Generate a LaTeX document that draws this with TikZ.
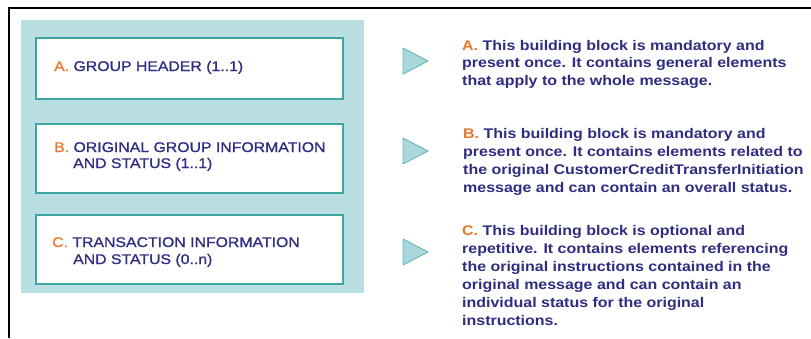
\documentclass[tikz,border=0pt]{standalone}
\usepackage{fontspec}
\setmainfont{Liberation Sans}
\newfontfamily\lefttxt[FakeStretch=1.13,FakeBold=0.9]{Liberation Sans}
\newfontfamily\righttxt[FakeStretch=1.14]{Liberation Sans Bold}
\definecolor{navy}{HTML}{2F2C82}
\definecolor{orng}{HTML}{E8772E}
\definecolor{panel}{HTML}{B9DFE3}
\definecolor{boxline}{HTML}{3EA6A2}
\definecolor{trifill}{HTML}{A9D7DB}
\definecolor{triline}{HTML}{62B9B7}
\tikzset{
  blockbox/.style={draw=boxline, line width=1.1pt, fill=white},
  lefttext/.style={anchor=base west, inner sep=0pt, text=navy, font=\lefttxt\fontsize{14}{17}\selectfont},
  righttext/.style={anchor=base west, inner sep=0pt, text=navy, font=\righttxt\fontsize{14}{17}\selectfont},
  tri/.style={fill=trifill, draw=triline, line width=0.9pt, line join=round},
}
\newcommand{\ltr}[1]{\textcolor{orng}{#1}}
\begin{document}
\begin{tikzpicture}[x=1pt,y=-1pt]
\useasboundingbox (0,0) rectangle (811,338);
\fill[white] (0,0) rectangle (811,338);
% outer frame
\draw[line width=2.5pt] (9,338) -- (9,8) -- (811,8);
% panel
\fill[panel] (21,20) rectangle (364,293);
% boxes
\draw[blockbox] (36,38) rectangle (343,99);
\draw[blockbox] (36,124) rectangle (343,193);
\draw[blockbox] (36,215) rectangle (343,284);
% box texts
\node[lefttext] (la) at (54,71) {\ltr{A.} GROUP HEADER (1..1)};
\node[lefttext] (lb1) at (54,152) {\ltr{B.} ORIGINAL GROUP INFORMATION};
\node[lefttext] (lb2) at (73,168) {AND STATUS (1..1)};
\node[lefttext] (lc1) at (52,247) {\ltr{C.} TRANSACTION INFORMATION};
\node[lefttext] (lc2) at (73,264) {AND STATUS (0..n)};
% triangles
\draw[tri] (403,48) -- (403,74) -- (428,61) -- cycle;
\draw[tri] (403,138) -- (403,164) -- (428,151) -- cycle;
\draw[tri] (403,239) -- (403,265) -- (428,252) -- cycle;
% right texts
\node[righttext] (ra1) at (462,50) {\ltr{A.} This building block is mandatory and};
\node[righttext] (ra2) at (462,67.5) {present once. It contains general elements};
\node[righttext] (ra3) at (462,85) {that apply to the whole message.};
\node[righttext] (rb1) at (463,138) {\ltr{B.} This building block is mandatory and};
\node[righttext] (rb2) at (463,156) {present once. It contains elements related to};
\node[righttext] (rb3) at (463,174) {the original CustomerCreditTransferInitiation};
\node[righttext] (rb4) at (463,192) {message and can contain an overall status.};
\node[righttext] (rc1) at (462,235) {\ltr{C.} This building block is optional and};
\node[righttext] (rc2) at (462,253) {repetitive. It contains elements referencing};
\node[righttext] (rc3) at (462,271) {the original instructions contained in the};
\node[righttext] (rc4) at (462,289) {original message and can contain an};
\node[righttext] (rc5) at (462,307) {individual status for the original};
\node[righttext] (rc6) at (462,325) {instructions.};
\end{tikzpicture}
\end{document}
